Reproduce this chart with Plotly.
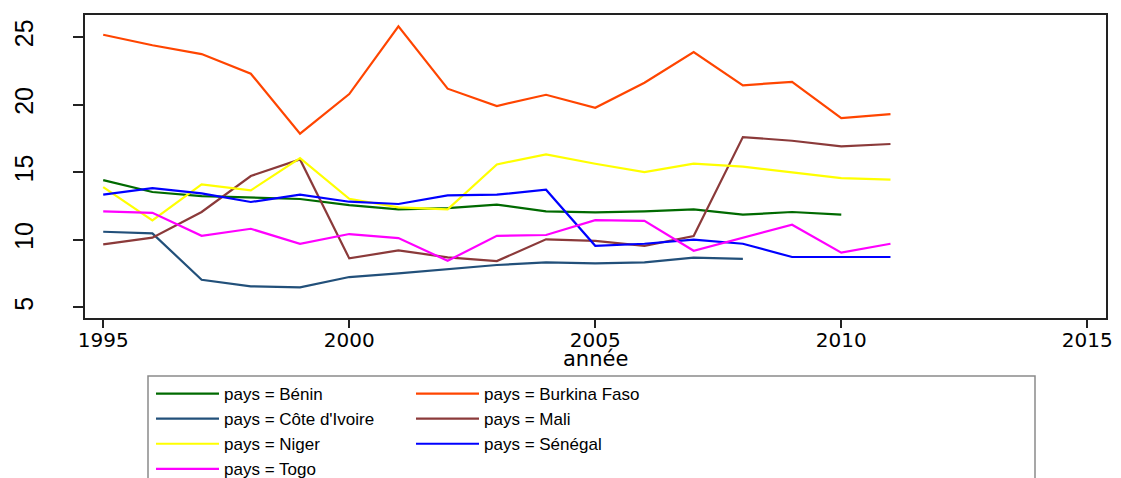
import plotly.graph_objects as go

years = list(range(1995, 2012))

benin = [14.42, 13.54, 13.24, 13.11, 13.02, 12.57, 12.26, 12.35, 12.60, 12.11, 12.03, 12.11, 12.26, 11.86, 12.06, 11.86]
burkina = [25.17, 24.39, 23.74, 22.29, 17.85, 20.78, 25.79, 21.18, 19.90, 20.73, 19.77, 21.62, 23.89, 21.43, 21.69, 19.01, 19.30]
cote = [10.60, 10.48, 7.05, 6.56, 6.49, 7.25, 7.52, 7.82, 8.14, 8.34, 8.26, 8.34, 8.68, 8.60]
mali = [9.67, 10.16, 12.06, 14.72, 15.95, 8.63, 9.22, 8.71, 8.43, 10.04, 9.93, 9.56, 10.28, 17.60, 17.33, 16.92, 17.09]
niger = [13.90, 11.44, 14.10, 13.66, 16.05, 13.04, 12.40, 12.26, 15.58, 16.32, 15.63, 15.01, 15.63, 15.41, 14.99, 14.57, 14.45]
senegal = [13.34, 13.83, 13.44, 12.80, 13.34, 12.82, 12.65, 13.29, 13.34, 13.71, 9.56, 9.71, 10.01, 9.71, 8.73, 8.73, 8.73]
togo = [12.11, 12.00, 10.30, 10.82, 9.71, 10.43, 10.13, 8.45, 10.30, 10.36, 11.46, 11.41, 9.19, 10.16, 11.12, 9.05, 9.71]

x_ticks = [1995, 2000, 2005, 2010, 2015]
y_ticks = [5, 10, 15, 20, 25]

series = [
    ("pays = Bénin", benin, "#006a00", "legend"),
    ("pays = Burkina Faso", burkina, "#ff4500", "legend2"),
    ("pays = Côte d'Ivoire", cote, "#22507a", "legend"),
    ("pays = Mali", mali, "#8b3a3a", "legend2"),
    ("pays = Niger", niger, "#ffff00", "legend"),
    ("pays = Sénégal", senegal, "#0000ff", "legend2"),
    ("pays = Togo", togo, "#ff00ff", "legend"),
]

fig = go.Figure()
for name, vals, col, lg in series:
    fig.add_trace(go.Scatter(
        x=years[:len(vals)], y=vals, mode="lines", name=name,
        line=dict(color=col, width=2.2), legend=lg,
    ))

W, H = 1121, 478
L, R, T, B = 85, 15, 15, 160
pw, ph = W - L - R, H - T - B

def px_x(p):
    return (p - L) / pw

def px_y(p):
    return (H - B - p) / ph

legfont = dict(family="Liberation Sans, Arial, sans-serif", size=17, color="black")

fig.update_layout(
    width=W, height=H,
    margin=dict(l=L, r=R, t=T, b=B, autoexpand=False),
    paper_bgcolor="white", plot_bgcolor="white",
    showlegend=True,
    legend=dict(x=px_x(151), y=px_y(376), xanchor="left", yanchor="top",
                font=legfont, bgcolor="rgba(0,0,0,0)", itemwidth=63,
                traceorder="normal"),
    legend2=dict(x=px_x(411), y=px_y(376), xanchor="left", yanchor="top",
                 font=legfont, bgcolor="rgba(0,0,0,0)", itemwidth=63,
                 traceorder="normal"),
    xaxis=dict(
        range=[1994.63, 2015.38], tickvals=x_ticks, ticktext=[str(v) for v in x_ticks],
        showgrid=False, zeroline=False, showline=True, mirror=True,
        linecolor="#222", linewidth=2, ticks="outside", ticklen=8, tickwidth=1.5,
        tickcolor="#222", ticklabelstandoff=-5,
        tickfont=dict(family="DejaVu Sans, Verdana, sans-serif", size=20, color="black"),
    ),
    yaxis=dict(
        range=[4.22, 26.63], tickvals=y_ticks, ticktext=[str(v) for v in y_ticks],
        showgrid=False, zeroline=False, showline=True, mirror=True,
        linecolor="#222", linewidth=2, ticks="outside", ticklen=10, tickwidth=1.5,
        tickcolor="#222", tickangle=-90, ticklabelstandoff=30,
        tickfont=dict(family="Liberation Sans Narrow, Arial Narrow, sans-serif", size=25, color="black"),
    ),
    annotations=[dict(text="année", xref="paper", yref="paper", x=0.5, y=px_y(359),
                      xanchor="center", yanchor="middle", showarrow=False,
                      font=dict(family="DejaVu Sans, Verdana, sans-serif", size=21, color="black"))],
    shapes=[dict(type="rect", xref="paper", yref="paper",
                 x0=px_x(148), x1=px_x(1035), y0=px_y(376), y1=px_y(520),
                 line=dict(color="#8a8a8a", width=1.5), fillcolor="rgba(0,0,0,0)",
                 layer="below")],
)

fig.write_html("out.html", config={"displayModeBar": False},
               post_script="document.body.style.margin='0px';")
